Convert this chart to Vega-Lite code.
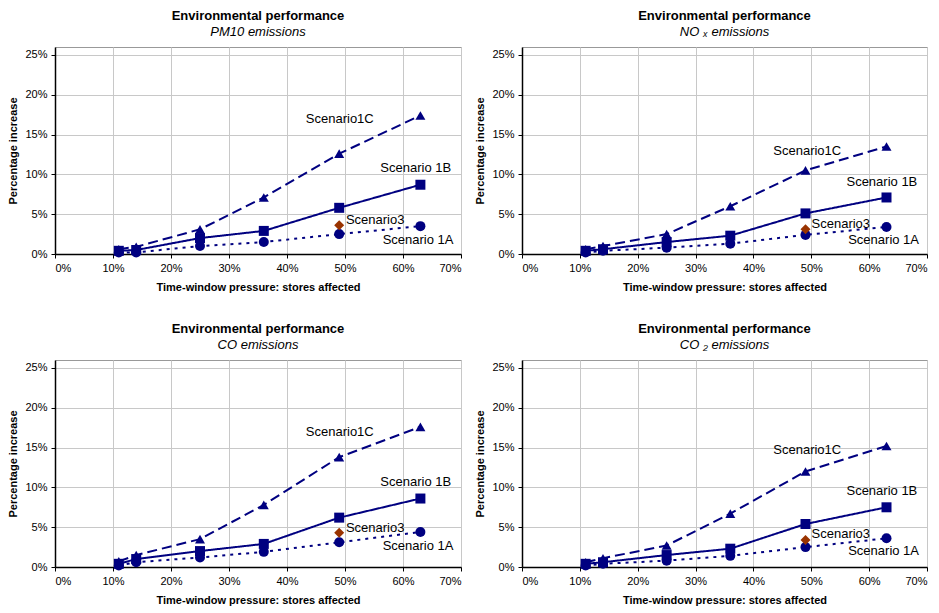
{
  "$schema": "https://vega.github.io/schema/vega-lite/v6.json",
  "padding": {"top": 9, "left": 7, "right": 5, "bottom": 1},
  "background": "white",
  "datasets": {
    "series": [
      {"panel": "PM10", "scenario": "1A", "x": 0.11, "y": 0.002},
      {"panel": "PM10", "scenario": "1A", "x": 0.14, "y": 0.002},
      {"panel": "PM10", "scenario": "1A", "x": 0.25, "y": 0.010},
      {"panel": "PM10", "scenario": "1A", "x": 0.36, "y": 0.015},
      {"panel": "PM10", "scenario": "1A", "x": 0.49, "y": 0.025},
      {"panel": "PM10", "scenario": "1A", "x": 0.63, "y": 0.035},
      {"panel": "PM10", "scenario": "1B", "x": 0.11, "y": 0.004},
      {"panel": "PM10", "scenario": "1B", "x": 0.14, "y": 0.005},
      {"panel": "PM10", "scenario": "1B", "x": 0.25, "y": 0.020},
      {"panel": "PM10", "scenario": "1B", "x": 0.36, "y": 0.029},
      {"panel": "PM10", "scenario": "1B", "x": 0.49, "y": 0.058},
      {"panel": "PM10", "scenario": "1B", "x": 0.63, "y": 0.087},
      {"panel": "PM10", "scenario": "1C", "x": 0.11, "y": 0.006},
      {"panel": "PM10", "scenario": "1C", "x": 0.14, "y": 0.009},
      {"panel": "PM10", "scenario": "1C", "x": 0.25, "y": 0.031},
      {"panel": "PM10", "scenario": "1C", "x": 0.36, "y": 0.071},
      {"panel": "PM10", "scenario": "1C", "x": 0.49, "y": 0.126},
      {"panel": "PM10", "scenario": "1C", "x": 0.63, "y": 0.174},
      {"panel": "PM10", "scenario": "3", "x": 0.49, "y": 0.036},

      {"panel": "NOx", "scenario": "1A", "x": 0.11, "y": 0.002},
      {"panel": "NOx", "scenario": "1A", "x": 0.14, "y": 0.004},
      {"panel": "NOx", "scenario": "1A", "x": 0.25, "y": 0.008},
      {"panel": "NOx", "scenario": "1A", "x": 0.36, "y": 0.013},
      {"panel": "NOx", "scenario": "1A", "x": 0.49, "y": 0.024},
      {"panel": "NOx", "scenario": "1A", "x": 0.63, "y": 0.034},
      {"panel": "NOx", "scenario": "1B", "x": 0.11, "y": 0.004},
      {"panel": "NOx", "scenario": "1B", "x": 0.14, "y": 0.006},
      {"panel": "NOx", "scenario": "1B", "x": 0.25, "y": 0.015},
      {"panel": "NOx", "scenario": "1B", "x": 0.36, "y": 0.023},
      {"panel": "NOx", "scenario": "1B", "x": 0.49, "y": 0.051},
      {"panel": "NOx", "scenario": "1B", "x": 0.63, "y": 0.071},
      {"panel": "NOx", "scenario": "1C", "x": 0.11, "y": 0.006},
      {"panel": "NOx", "scenario": "1C", "x": 0.14, "y": 0.010},
      {"panel": "NOx", "scenario": "1C", "x": 0.25, "y": 0.025},
      {"panel": "NOx", "scenario": "1C", "x": 0.36, "y": 0.060},
      {"panel": "NOx", "scenario": "1C", "x": 0.49, "y": 0.105},
      {"panel": "NOx", "scenario": "1C", "x": 0.63, "y": 0.135},
      {"panel": "NOx", "scenario": "3", "x": 0.49, "y": 0.031},

      {"panel": "CO", "scenario": "1A", "x": 0.11, "y": 0.002},
      {"panel": "CO", "scenario": "1A", "x": 0.14, "y": 0.006},
      {"panel": "CO", "scenario": "1A", "x": 0.25, "y": 0.012},
      {"panel": "CO", "scenario": "1A", "x": 0.36, "y": 0.019},
      {"panel": "CO", "scenario": "1A", "x": 0.49, "y": 0.031},
      {"panel": "CO", "scenario": "1A", "x": 0.63, "y": 0.044},
      {"panel": "CO", "scenario": "1B", "x": 0.11, "y": 0.004},
      {"panel": "CO", "scenario": "1B", "x": 0.14, "y": 0.010},
      {"panel": "CO", "scenario": "1B", "x": 0.25, "y": 0.020},
      {"panel": "CO", "scenario": "1B", "x": 0.36, "y": 0.029},
      {"panel": "CO", "scenario": "1B", "x": 0.49, "y": 0.062},
      {"panel": "CO", "scenario": "1B", "x": 0.63, "y": 0.086},
      {"panel": "CO", "scenario": "1C", "x": 0.11, "y": 0.007},
      {"panel": "CO", "scenario": "1C", "x": 0.14, "y": 0.015},
      {"panel": "CO", "scenario": "1C", "x": 0.25, "y": 0.035},
      {"panel": "CO", "scenario": "1C", "x": 0.36, "y": 0.078},
      {"panel": "CO", "scenario": "1C", "x": 0.49, "y": 0.138},
      {"panel": "CO", "scenario": "1C", "x": 0.63, "y": 0.176},
      {"panel": "CO", "scenario": "3", "x": 0.49, "y": 0.043},

      {"panel": "CO2", "scenario": "1A", "x": 0.11, "y": 0.002},
      {"panel": "CO2", "scenario": "1A", "x": 0.14, "y": 0.004},
      {"panel": "CO2", "scenario": "1A", "x": 0.25, "y": 0.008},
      {"panel": "CO2", "scenario": "1A", "x": 0.36, "y": 0.014},
      {"panel": "CO2", "scenario": "1A", "x": 0.49, "y": 0.025},
      {"panel": "CO2", "scenario": "1A", "x": 0.63, "y": 0.036},
      {"panel": "CO2", "scenario": "1B", "x": 0.11, "y": 0.004},
      {"panel": "CO2", "scenario": "1B", "x": 0.14, "y": 0.006},
      {"panel": "CO2", "scenario": "1B", "x": 0.25, "y": 0.015},
      {"panel": "CO2", "scenario": "1B", "x": 0.36, "y": 0.023},
      {"panel": "CO2", "scenario": "1B", "x": 0.49, "y": 0.054},
      {"panel": "CO2", "scenario": "1B", "x": 0.63, "y": 0.075},
      {"panel": "CO2", "scenario": "1C", "x": 0.11, "y": 0.006},
      {"panel": "CO2", "scenario": "1C", "x": 0.14, "y": 0.011},
      {"panel": "CO2", "scenario": "1C", "x": 0.25, "y": 0.027},
      {"panel": "CO2", "scenario": "1C", "x": 0.36, "y": 0.067},
      {"panel": "CO2", "scenario": "1C", "x": 0.49, "y": 0.120},
      {"panel": "CO2", "scenario": "1C", "x": 0.63, "y": 0.152},
      {"panel": "CO2", "scenario": "3", "x": 0.49, "y": 0.034}
    ],
    "labels": [
      {"panel": "PM10", "label": "Scenario1C", "x": 0.491, "y": 0.169},
      {"panel": "PM10", "label": "Scenario 1B", "x": 0.622, "y": 0.108},
      {"panel": "PM10", "label": "Scenario3", "x": 0.552, "y": 0.043},
      {"panel": "PM10", "label": "Scenario 1A", "x": 0.626, "y": 0.018},
      {"panel": "NOx", "label": "Scenario1C", "x": 0.493, "y": 0.130},
      {"panel": "NOx", "label": "Scenario 1B", "x": 0.622, "y": 0.091},
      {"panel": "NOx", "label": "Scenario3", "x": 0.551, "y": 0.038},
      {"panel": "NOx", "label": "Scenario 1A", "x": 0.625, "y": 0.017},
      {"panel": "CO", "label": "Scenario1C", "x": 0.491, "y": 0.170},
      {"panel": "CO", "label": "Scenario 1B", "x": 0.622, "y": 0.107},
      {"panel": "CO", "label": "Scenario3", "x": 0.552, "y": 0.049},
      {"panel": "CO", "label": "Scenario 1A", "x": 0.626, "y": 0.026},
      {"panel": "CO2", "label": "Scenario1C", "x": 0.493, "y": 0.147},
      {"panel": "CO2", "label": "Scenario 1B", "x": 0.622, "y": 0.096},
      {"panel": "CO2", "label": "Scenario3", "x": 0.551, "y": 0.042},
      {"panel": "CO2", "label": "Scenario 1A", "x": 0.625, "y": 0.020}
    ]
  },
  "columns": 2,
  "bounds": "flush",
  "spacing": {"column": 61, "row": 106},
  "concat": [
    {
      "title": {"text": "Environmental performance", "subtitle": "PM10 emissions"},
      "width": 406, "height": 207,
      "layer": [
        {"data": {"name": "series"}, "transform": [{"filter": "datum.panel === 'PM10' && datum.scenario !== '3'"}],
         "mark": {"type": "line", "color": "#000080", "strokeWidth": 2},
         "encoding": {
           "x": {"field": "x", "type": "quantitative", "scale": {"domain": [0, 0.7]}, "axis": {"values": [0, 0.1, 0.2, 0.3, 0.4, 0.5, 0.6, 0.7], "format": ".0%", "title": "Time-window pressure: stores affected"}},
           "y": {"field": "y", "type": "quantitative", "scale": {"domain": [0, 0.25]}, "axis": {"values": [0, 0.05, 0.1, 0.15, 0.2, 0.25], "format": ".0%", "title": "Percentage increase"}},
           "strokeDash": {"field": "scenario", "type": "nominal", "scale": {"domain": ["1A", "1B", "1C"], "range": [[3, 5], [1, 0], [10, 5]]}, "legend": null}
         }},
        {"data": {"name": "series"}, "transform": [{"filter": "datum.panel === 'PM10'"}],
         "mark": {"type": "point", "filled": true, "opacity": 1},
         "encoding": {
           "x": {"field": "x", "type": "quantitative"},
           "y": {"field": "y", "type": "quantitative"},
           "shape": {"field": "scenario", "type": "nominal", "scale": {"domain": ["1A", "1B", "1C", "3"], "range": ["circle", "square", "triangle-up", "diamond"]}, "legend": null},
           "color": {"field": "scenario", "type": "nominal", "scale": {"domain": ["1A", "1B", "1C", "3"], "range": ["#000080", "#000080", "#000080", "#993300"]}, "legend": null},
           "size": {"field": "scenario", "type": "nominal", "scale": {"domain": ["1A", "1B", "1C", "3"], "range": [100, 100, 130, 180]}, "legend": null}
         }},
        {"data": {"name": "labels"}, "transform": [{"filter": "datum.panel === 'PM10'"}],
         "mark": {"type": "text", "fontSize": 13, "color": "#000", "align": "center", "baseline": "middle"},
         "encoding": {
           "x": {"field": "x", "type": "quantitative"},
           "y": {"field": "y", "type": "quantitative"},
           "text": {"field": "label"}
         }}
      ]
    },
    {
      "title": {"text": "Environmental performance", "subtitle": "NO ₓ emissions"},
      "width": 405, "height": 207,
      "layer": [
        {"data": {"name": "series"}, "transform": [{"filter": "datum.panel === 'NOx' && datum.scenario !== '3'"}],
         "mark": {"type": "line", "color": "#000080", "strokeWidth": 2},
         "encoding": {
           "x": {"field": "x", "type": "quantitative", "scale": {"domain": [0, 0.7]}, "axis": {"values": [0, 0.1, 0.2, 0.3, 0.4, 0.5, 0.6, 0.7], "format": ".0%", "title": "Time-window pressure: stores affected"}},
           "y": {"field": "y", "type": "quantitative", "scale": {"domain": [0, 0.25]}, "axis": {"values": [0, 0.05, 0.1, 0.15, 0.2, 0.25], "format": ".0%", "title": "Percentage increase"}},
           "strokeDash": {"field": "scenario", "type": "nominal", "scale": {"domain": ["1A", "1B", "1C"], "range": [[3, 5], [1, 0], [10, 5]]}, "legend": null}
         }},
        {"data": {"name": "series"}, "transform": [{"filter": "datum.panel === 'NOx'"}],
         "mark": {"type": "point", "filled": true, "opacity": 1},
         "encoding": {
           "x": {"field": "x", "type": "quantitative"},
           "y": {"field": "y", "type": "quantitative"},
           "shape": {"field": "scenario", "type": "nominal", "scale": {"domain": ["1A", "1B", "1C", "3"], "range": ["circle", "square", "triangle-up", "diamond"]}, "legend": null},
           "color": {"field": "scenario", "type": "nominal", "scale": {"domain": ["1A", "1B", "1C", "3"], "range": ["#000080", "#000080", "#000080", "#993300"]}, "legend": null},
           "size": {"field": "scenario", "type": "nominal", "scale": {"domain": ["1A", "1B", "1C", "3"], "range": [100, 100, 130, 180]}, "legend": null}
         }},
        {"data": {"name": "labels"}, "transform": [{"filter": "datum.panel === 'NOx'"}],
         "mark": {"type": "text", "fontSize": 13, "color": "#000", "align": "center", "baseline": "middle"},
         "encoding": {
           "x": {"field": "x", "type": "quantitative"},
           "y": {"field": "y", "type": "quantitative"},
           "text": {"field": "label"}
         }}
      ]
    },
    {
      "title": {"text": "Environmental performance", "subtitle": "CO  emissions"},
      "width": 406, "height": 207,
      "layer": [
        {"data": {"name": "series"}, "transform": [{"filter": "datum.panel === 'CO' && datum.scenario !== '3'"}],
         "mark": {"type": "line", "color": "#000080", "strokeWidth": 2},
         "encoding": {
           "x": {"field": "x", "type": "quantitative", "scale": {"domain": [0, 0.7]}, "axis": {"values": [0, 0.1, 0.2, 0.3, 0.4, 0.5, 0.6, 0.7], "format": ".0%", "title": "Time-window pressure: stores affected"}},
           "y": {"field": "y", "type": "quantitative", "scale": {"domain": [0, 0.25]}, "axis": {"values": [0, 0.05, 0.1, 0.15, 0.2, 0.25], "format": ".0%", "title": "Percentage increase"}},
           "strokeDash": {"field": "scenario", "type": "nominal", "scale": {"domain": ["1A", "1B", "1C"], "range": [[3, 5], [1, 0], [10, 5]]}, "legend": null}
         }},
        {"data": {"name": "series"}, "transform": [{"filter": "datum.panel === 'CO'"}],
         "mark": {"type": "point", "filled": true, "opacity": 1},
         "encoding": {
           "x": {"field": "x", "type": "quantitative"},
           "y": {"field": "y", "type": "quantitative"},
           "shape": {"field": "scenario", "type": "nominal", "scale": {"domain": ["1A", "1B", "1C", "3"], "range": ["circle", "square", "triangle-up", "diamond"]}, "legend": null},
           "color": {"field": "scenario", "type": "nominal", "scale": {"domain": ["1A", "1B", "1C", "3"], "range": ["#000080", "#000080", "#000080", "#993300"]}, "legend": null},
           "size": {"field": "scenario", "type": "nominal", "scale": {"domain": ["1A", "1B", "1C", "3"], "range": [100, 100, 130, 180]}, "legend": null}
         }},
        {"data": {"name": "labels"}, "transform": [{"filter": "datum.panel === 'CO'"}],
         "mark": {"type": "text", "fontSize": 13, "color": "#000", "align": "center", "baseline": "middle"},
         "encoding": {
           "x": {"field": "x", "type": "quantitative"},
           "y": {"field": "y", "type": "quantitative"},
           "text": {"field": "label"}
         }}
      ]
    },
    {
      "title": {"text": "Environmental performance", "subtitle": "CO ₂ emissions"},
      "width": 405, "height": 207,
      "layer": [
        {"data": {"name": "series"}, "transform": [{"filter": "datum.panel === 'CO2' && datum.scenario !== '3'"}],
         "mark": {"type": "line", "color": "#000080", "strokeWidth": 2},
         "encoding": {
           "x": {"field": "x", "type": "quantitative", "scale": {"domain": [0, 0.7]}, "axis": {"values": [0, 0.1, 0.2, 0.3, 0.4, 0.5, 0.6, 0.7], "format": ".0%", "title": "Time-window pressure: stores affected"}},
           "y": {"field": "y", "type": "quantitative", "scale": {"domain": [0, 0.25]}, "axis": {"values": [0, 0.05, 0.1, 0.15, 0.2, 0.25], "format": ".0%", "title": "Percentage increase"}},
           "strokeDash": {"field": "scenario", "type": "nominal", "scale": {"domain": ["1A", "1B", "1C"], "range": [[3, 5], [1, 0], [10, 5]]}, "legend": null}
         }},
        {"data": {"name": "series"}, "transform": [{"filter": "datum.panel === 'CO2'"}],
         "mark": {"type": "point", "filled": true, "opacity": 1},
         "encoding": {
           "x": {"field": "x", "type": "quantitative"},
           "y": {"field": "y", "type": "quantitative"},
           "shape": {"field": "scenario", "type": "nominal", "scale": {"domain": ["1A", "1B", "1C", "3"], "range": ["circle", "square", "triangle-up", "diamond"]}, "legend": null},
           "color": {"field": "scenario", "type": "nominal", "scale": {"domain": ["1A", "1B", "1C", "3"], "range": ["#000080", "#000080", "#000080", "#993300"]}, "legend": null},
           "size": {"field": "scenario", "type": "nominal", "scale": {"domain": ["1A", "1B", "1C", "3"], "range": [100, 100, 130, 180]}, "legend": null}
         }},
        {"data": {"name": "labels"}, "transform": [{"filter": "datum.panel === 'CO2'"}],
         "mark": {"type": "text", "fontSize": 13, "color": "#000", "align": "center", "baseline": "middle"},
         "encoding": {
           "x": {"field": "x", "type": "quantitative"},
           "y": {"field": "y", "type": "quantitative"},
           "text": {"field": "label"}
         }}
      ]
    }
  ],
  "config": {
    "font": "Liberation Sans",
    "view": {"stroke": "#999999", "strokeWidth": 1},
    "axis": {
      "labelFont": "Liberation Sans", "labelFontSize": 11, "labelColor": "#000",
      "titleFont": "Liberation Sans", "titleFontSize": 11, "titleFontWeight": "bold", "titleColor": "#000",
      "domainColor": "#000", "domainWidth": 1.5, "tickColor": "#000", "tickSize": 4, "labelPadding": 4,
      "gridColor": "#c8c8c8", "gridWidth": 1
    },
    "axisX": {"titlePadding": 8},
    "axisY": {"titlePadding": 6},
    "title": {
      "font": "Liberation Sans", "fontSize": 13, "fontWeight": "bold", "color": "#000",
      "subtitleFont": "Liberation Sans", "subtitleFontSize": 13, "subtitleFontStyle": "italic", "subtitleColor": "#000",
      "anchor": "middle", "offset": 8, "subtitlePadding": 3
    }
  }
}
